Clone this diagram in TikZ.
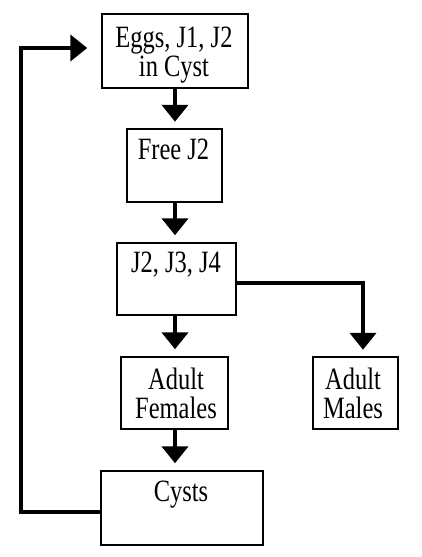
\documentclass[tikz,border=0pt]{standalone}
\usepackage{fontspec}
\setmainfont{Liberation Serif}[FakeStretch=0.79]
\usetikzlibrary{arrows.meta}
\begin{document}
\begin{tikzpicture}[x=1pt,y=-1pt,
  box/.style={draw=black,line width=1.5pt,rectangle,inner sep=0pt,fill=white},
  lbl/.style={inner sep=0pt,align=center,anchor=base,font=\fontsize{31}{29}\selectfont},
  arr/.style={draw=black,line width=4.5pt,-{Triangle[width=26pt,length=17pt]}}]
\useasboundingbox[fill=white] (0,0) rectangle (421,557);
% boxes
\node[box,minimum width=146pt,minimum height=74pt] (b1) at (175,51) {};
\node[box,minimum width=95pt,minimum height=73pt] (b2) at (174.5,165.5) {};
\node[box,minimum width=119pt,minimum height=72pt] (b3) at (176.5,279) {};
\node[box,minimum width=107pt,minimum height=72pt] (F) at (174.5,393) {};
\node[box,minimum width=85pt,minimum height=72pt] (M) at (355.5,393) {};
\node[box,minimum width=162pt,minimum height=74pt] (C) at (182,508) {};
% texts (base anchor = baseline of the last line)
\node[lbl] (t1) at (174,76) {Eggs, J1, J2\\in Cyst};
\node[lbl] (t2) at (173.5,159) {Free J2};
\node[lbl] (t3) at (176,272.7) {J2, J3, J4};
\node[lbl] (t4) at (176,418) {Adult\\Females};
\node[lbl] (t5) at (353,418) {Adult\\Males};
\node[lbl] (t6) at (181,501.7) {Cysts};
% connectors
\coordinate (k1) at (21,512);
\coordinate (k2) at (21,48);
\coordinate (k3) at (363,283);
\draw[arr,shorten >=6.5pt] (b1.south) -- (b1.south |- b2.north);
\draw[arr,shorten >=7pt] (b1.south |- b2.south) -- (b1.south |- b3.north);
\draw[arr,shorten >=7pt] (b1.south |- b3.south) -- (b1.south |- F.north);
\draw[arr,shorten >=7pt] (b1.south |- F.south) -- (b1.south |- C.north);
\draw[arr,shorten >=6.5pt] (b3.east |- k3) -- (k3) -- (k3 |- M.north);
\draw[arr,shorten >=14pt] (C.west |- k1) -- (k1) -- (k2) -- (b1.west |- k2);
\end{tikzpicture}
\end{document}
